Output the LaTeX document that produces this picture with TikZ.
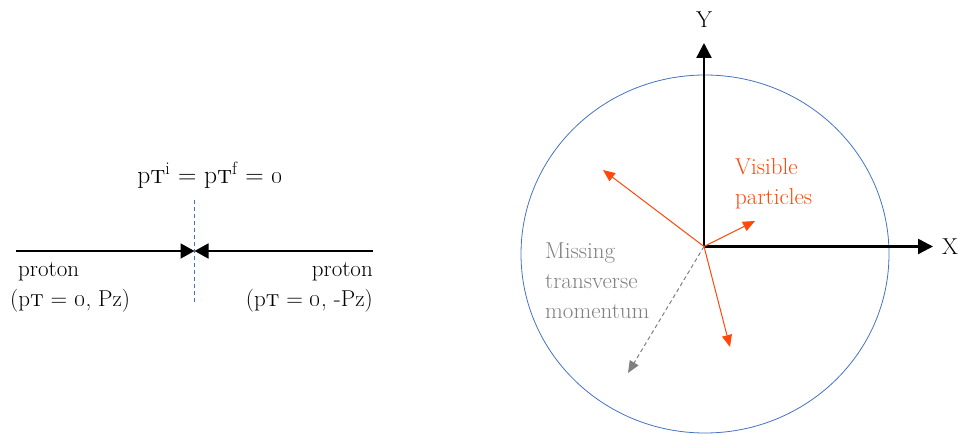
\documentclass[tikz,border=0pt]{standalone}
\usetikzlibrary{arrows.meta}
\definecolor{vorange}{RGB}{255,72,10}
\definecolor{cblue}{RGB}{68,114,196}
\definecolor{mgray}{RGB}{128,128,128}
\newcommand{\pTsub}{p\textsc{t}}
\newcommand{\zz}{\oldstylenums{0}}
\begin{document}
\begin{tikzpicture}[x=1pt,y=-1pt,
  txt/.style={inner sep=0pt,font=\fontsize{23}{30}\selectfont},
  beam/.style={line width=1.8pt,-{Triangle[length=14pt,width=15pt]}},
  axis/.style={line width=2.4pt,-{Triangle[length=15pt,width=15pt]}},
  vis/.style={vorange,line width=1pt,-{Triangle[length=12pt,width=10pt]}},
  miss/.style={mgray,line width=1pt,dash pattern=on 4pt off 3pt,-{Triangle[length=12pt,width=10pt]}}]
\useasboundingbox (0,0) rectangle (958,435);
% left part
\coordinate (l0) at (16,251);
\coordinate (mid) at (194.5,251);
\coordinate (r0) at (373,251);
\coordinate (dtop) at (194,200);
\coordinate (dbot) at (194,303);
\draw[cblue,line width=1pt,dash pattern=on 4pt off 3pt] (dtop) -- (dbot);
\draw[beam] (l0) -- (mid);
\draw[beam] (r0) -- (mid);
\node[txt,anchor=base,font=\fontsize{25.5}{30}\selectfont] (title) at (210,184) {\pTsub\textsuperscript{i} = \pTsub\textsuperscript{f} = \zz};
\node[txt,anchor=base west] (pl) at (18,277) {proton};
\node[txt,anchor=base west] (pl2) at (10,307) {(\pTsub{} = \zz, Pz)};
\node[txt,anchor=base east] (pr) at (373,277) {proton};
\node[txt,anchor=base east] (pr2) at (373,307) {(\pTsub{} = \zz, -Pz)};
% right part
\draw[cblue,line width=0.8pt] (705,254) ellipse [x radius=184, y radius=179];
\coordinate (O) at (704,246.5);
\coordinate (ytip) at (704,43);
\coordinate (xtip) at (933,246.5);
\draw[axis] (O) -- (ytip);
\draw[axis] (O) -- (xtip);
\node[txt] (Y) at (704,20) {Y};
\node[txt] (X) at (950,247) {X};
\coordinate (v1) at (603,170);
\coordinate (v2) at (755,221);
\coordinate (v3) at (730,347);
\coordinate (m1) at (628,373);
\draw[vis] (O) -- (v1);
\draw[vis] (O) -- (v2);
\draw[vis] (O) -- (v3);
\draw[miss] (O) -- (m1);
\node[txt,text=vorange,anchor=north west,align=left] (vislab) at (735,158) {Visible\\particles};
\node[txt,text=mgray,anchor=north west,align=left] (misslab) at (545,242.3) {Missing\\transverse\\momentum};
\end{tikzpicture}
\end{document}
